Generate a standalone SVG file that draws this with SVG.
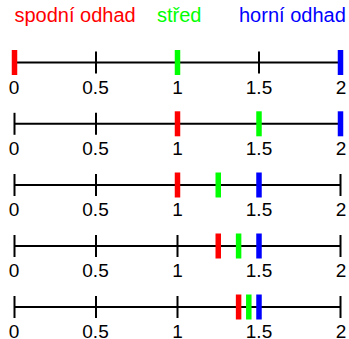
<svg xmlns="http://www.w3.org/2000/svg" width="349" height="339" viewBox="0 0 349 339">
  <style>
    .legend { font-family: "Liberation Sans", Arial, sans-serif; font-size: 20px; }
    .num { font-family: "Liberation Sans", Arial, sans-serif; font-size: 19px; fill: #000; text-anchor: middle; }
    .axis { stroke: #000; stroke-width: 2; }
    .tick { stroke: #000; stroke-width: 2; }
    .lo { stroke: #ff0000; stroke-width: 5.5; }
    .mid { stroke: #00ff00; stroke-width: 5.5; }
    .hi { stroke: #0000ff; stroke-width: 5.5; }
  </style>
  <defs>
    <!-- one number line: axis, ticks at 0, 0.5, 1, 1.5, 2 and their labels; scale 163 px per unit -->
    <g id="numline">
      <line class="axis" x1="14.5" y1="0" x2="340.5" y2="0"/>
      <line class="tick" x1="14.5" y1="-11" x2="14.5" y2="11"/>
      <line class="tick" x1="96" y1="-11" x2="96" y2="11"/>
      <line class="tick" x1="177.5" y1="-11" x2="177.5" y2="11"/>
      <line class="tick" x1="259" y1="-11" x2="259" y2="11"/>
      <line class="tick" x1="340.5" y1="-11" x2="340.5" y2="11"/>
      <text class="num" x="14" y="31">0</text>
      <text class="num" x="95.5" y="31">0.5</text>
      <text class="num" x="177.5" y="31">1</text>
      <text class="num" x="259" y="31">1.5</text>
      <text class="num" x="341" y="31">2</text>
    </g>
  </defs>

  <g id="legend">
    <text class="legend" x="14.5" y="22" fill="#ff0000">spodní odhad</text>
    <text class="legend" x="157" y="22" fill="#00ff00">střed</text>
    <text class="legend" x="239" y="22" fill="#0000ff">horní odhad</text>
  </g>

  <!-- step 1: interval [0, 2] -->
  <g id="step1" transform="translate(0,62.5)">
    <use href="#numline"/>
    <line class="lo" x1="14.5" y1="-12.5" x2="14.5" y2="12.5"/>
    <line class="mid" x1="177.5" y1="-12.5" x2="177.5" y2="12.5"/>
    <line class="hi" x1="340.5" y1="-12.5" x2="340.5" y2="12.5"/>
  </g>

  <!-- step 2: interval [1, 2] -->
  <g id="step2" transform="translate(0,123.8)">
    <use href="#numline"/>
    <line class="lo" x1="177.5" y1="-12.5" x2="177.5" y2="12.5"/>
    <line class="mid" x1="259" y1="-12.5" x2="259" y2="12.5"/>
    <line class="hi" x1="340.5" y1="-12.5" x2="340.5" y2="12.5"/>
  </g>

  <!-- step 3: interval [1, 1.5] -->
  <g id="step3" transform="translate(0,185)">
    <use href="#numline"/>
    <line class="lo" x1="177.5" y1="-12.5" x2="177.5" y2="12.5"/>
    <line class="mid" x1="218.25" y1="-12.5" x2="218.25" y2="12.5"/>
    <line class="hi" x1="259" y1="-12.5" x2="259" y2="12.5"/>
  </g>

  <!-- step 4: interval [1.25, 1.5] -->
  <g id="step4" transform="translate(0,246)">
    <use href="#numline"/>
    <line class="lo" x1="218.25" y1="-12.5" x2="218.25" y2="12.5"/>
    <line class="mid" x1="238.6" y1="-12.5" x2="238.6" y2="12.5"/>
    <line class="hi" x1="259" y1="-12.5" x2="259" y2="12.5"/>
  </g>

  <!-- step 5: interval [1.375, 1.5] -->
  <g id="step5" transform="translate(0,307)">
    <use href="#numline"/>
    <line class="lo" x1="238.6" y1="-12.5" x2="238.6" y2="12.5"/>
    <line class="mid" x1="248.8" y1="-12.5" x2="248.8" y2="12.5"/>
    <line class="hi" x1="259" y1="-12.5" x2="259" y2="12.5"/>
  </g>

  <g id="connectors"/>
</svg>
